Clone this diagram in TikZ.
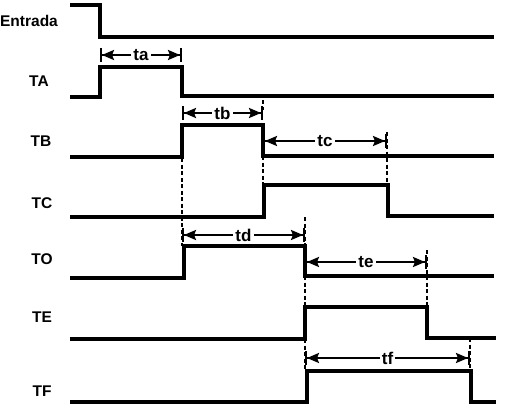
\documentclass[tikz,border=0pt]{standalone}
\usepackage{fontspec}
\setmainfont{Liberation Sans}
\usetikzlibrary{arrows.meta}
\begin{document}
\begin{tikzpicture}[x=1pt,y=-1pt,
  sig/.style={line width=3.6pt, line join=miter, line cap=butt},
  lab/.style={font=\fontsize{15.5}{15.5}\selectfont\bfseries, inner sep=0pt},
  dim/.style={line width=2.2pt, {Bar[width=14pt,line width=2pt]Stealth[length=12pt,width=10pt,inset=2pt]}-{Stealth[length=12pt,width=10pt,inset=2pt]Bar[width=14pt,line width=2pt]}},
  dimlab/.style={font=\fontsize{17}{17}\selectfont\bfseries, fill=white, inner xsep=2pt, inner ysep=1pt},
  guide/.style={line width=2pt, dash pattern=on 4pt off 2.5pt}]
\useasboundingbox (0,0) rectangle (520,408);
% labels
\node[lab] (lEntrada) at (29,21) {Entrada};
\node[lab] (lTA) at (39,81) {TA};
\node[lab] (lTB) at (41,141) {TB};
\node[lab] (lTC) at (42,203) {TC};
\node[lab] (lTO) at (42,259) {TO};
\node[lab] (lTE) at (42,317) {TE};
\node[lab] (lTF) at (42,391) {TF};
% signals
\draw[sig] (70,5) -- (100,5) -- (100,37) -- (494,37);
\draw[sig] (70,97) -- (100,97) -- (100,67) -- (182,67) -- (182,96) -- (494,96);
\draw[sig] (70,157) -- (182,157) -- (182,125) -- (263,125) -- (263,156) -- (494,156);
\draw[sig] (70,217) -- (264,217) -- (264,185) -- (388,185) -- (388,216) -- (494,216);
\draw[sig] (70,278) -- (184,278) -- (184,246) -- (305,246) -- (305,276) -- (494,276);
\draw[sig] (70,339) -- (305,339) -- (305,307) -- (427,307) -- (427,338) -- (496,338);
\draw[sig] (70,402) -- (307,402) -- (307,371) -- (471,371) -- (471,402) -- (496,402);
% guides
\draw[guide] (182,158) -- (182,246);
\draw[guide] (263,100) -- (263,110);
\draw[guide] (263,156) -- (263,185);
\draw[guide] (387,132) -- (387,185);
\draw[guide] (305,217) -- (305,246);
\draw[guide] (305,276) -- (305,307);
\draw[guide] (305,339) -- (305,371);
\draw[guide] (427,250) -- (427,307);
\draw[guide] (470,338) -- (470,371);
% dimension coordinates
\coordinate (a1) at (100,55);  \coordinate (a2) at (182,55);
\coordinate (b1) at (182,113); \coordinate (b2) at (263,113);
\coordinate (c1) at (263,141); \coordinate (c2) at (387,141);
\coordinate (d1) at (182,235); \coordinate (d2) at (305,235);
\coordinate (e1) at (305,262); \coordinate (e2) at (427,262);
\coordinate (f1) at (305,358); \coordinate (f2) at (470,358);
\draw[dim] (a1) -- node[dimlab] (ta) {ta} (a2);
\draw[dim] (b1) -- node[dimlab] (tb) {tb} (b2);
\draw[dim] (c1) -- node[dimlab] (tc) {tc} (c2);
\draw[dim] (d1) -- node[dimlab] (td) {td} (d2);
\draw[dim] (e1) -- node[dimlab] (te) {te} (e2);
\draw[dim] (f1) -- node[dimlab] (tf) {tf} (f2);
\end{tikzpicture}
\end{document}
